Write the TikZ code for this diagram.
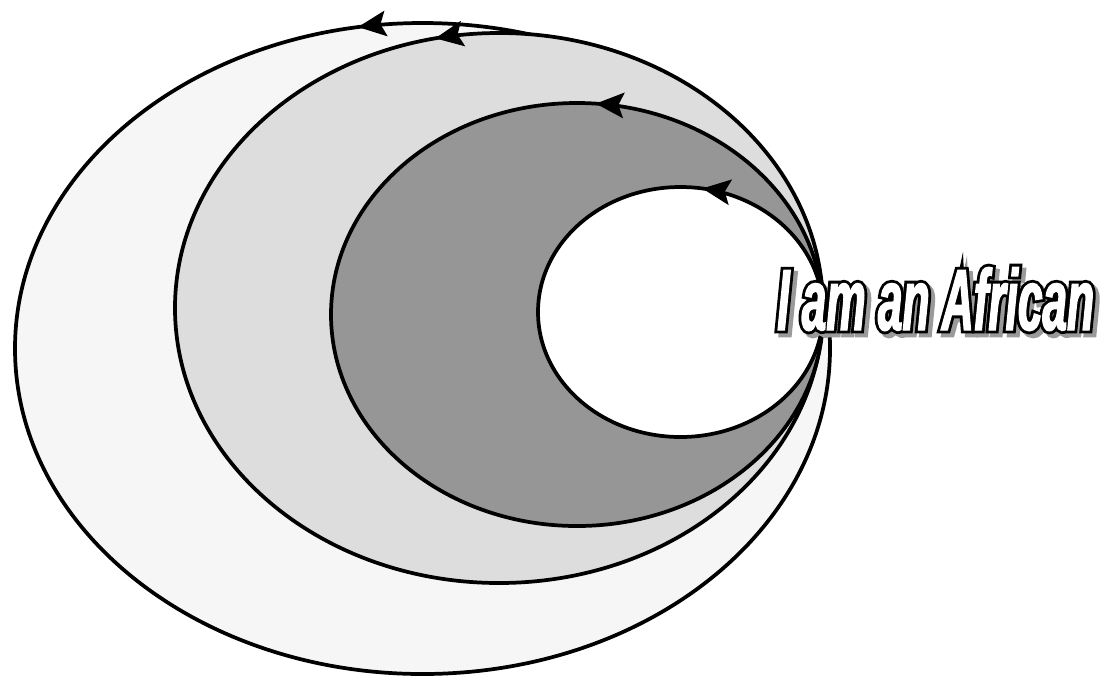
\documentclass[tikz,border=0pt]{standalone}
\usepackage{fontspec}
\setmainfont{Liberation Sans}
\newfontfamily\titleline[FakeStretch=0.51, FakeBold=8]{Liberation Sans Bold Italic}
\newfontfamily\titlefill[FakeStretch=0.51, FakeBold=1.5]{Liberation Sans Bold Italic}
\usetikzlibrary{arrows.meta, decorations.markings}

\definecolor{paleGray}{HTML}{F6F6F6}
\definecolor{lightGray}{HTML}{DDDDDD}
\definecolor{midGray}{HTML}{969696}
\definecolor{shadowGray}{HTML}{9A9A9A}

\begin{document}
\begin{tikzpicture}[
  x=0.75pt, y=-0.75pt,
  ring/.style={draw=black, line width=2.8pt},
  flow/.style={postaction={decorate}, decoration={markings, mark=at position #1 with {\arrowreversed{Stealth[length=21pt, width=19pt, inset=4pt]}}}},
  slogan/.style={anchor=base west, inner sep=0pt}
]
\useasboundingbox (0,0) rectangle (1112,676);

% rings, outermost first
\path[ring, fill=paleGray, flow=0.722] (422.5,348.5) ellipse [x radius=407.5, y radius=325.5];
\path[ring, fill=lightGray, flow=0.716] (499,308) ellipse [x radius=324, y radius=275];
\path[ring, fill=midGray, flow=0.763] (577,314.5) ellipse [x radius=246, y radius=211.5];
\path[ring, fill=white, flow=0.776] (680.5,312) ellipse [x radius=142.5, y radius=125];

% the title: shadow, outline, then the white letters
\node[slogan, text=shadowGray, font=\titleline\fontsize{65}{65}\selectfont] (shadow) at (781,334) {I am an African};
\node[slogan, text=black, font=\titleline\fontsize{65}{65}\selectfont] (outline) at (777,330) {I am an African};
\node[slogan, text=white, font=\titlefill\fontsize{65}{65}\selectfont] (title) at (777,330) {I am an African};

\end{tikzpicture}
\end{document}
